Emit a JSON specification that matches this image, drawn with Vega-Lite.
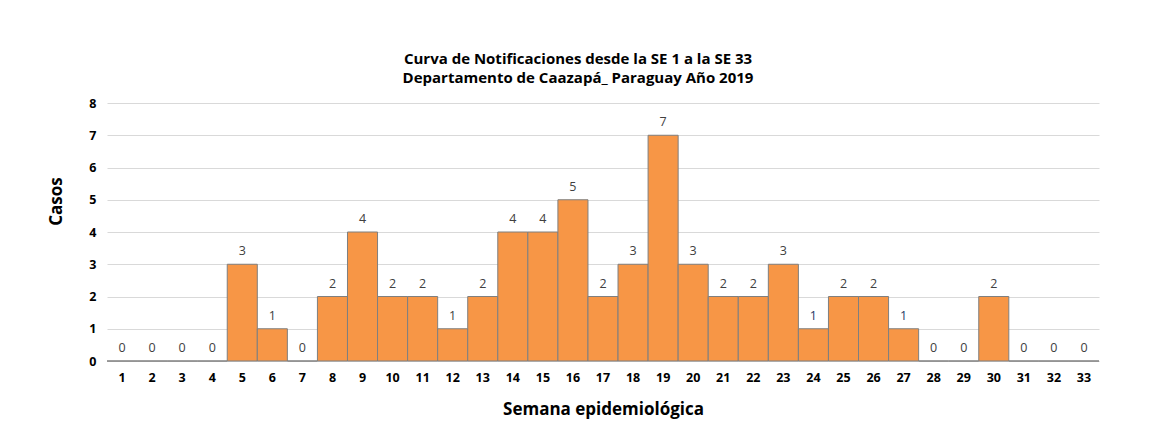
{
  "$schema": "https://vega.github.io/schema/vega-lite/v6.json",
  "width": 992,
  "height": 258,
  "autosize": "none",
  "padding": {"left": 107, "top": 103, "right": 58, "bottom": 64},
  "background": "white",
  "view": {"stroke": null},
  "title": {
    "text": ["Curva de Notificaciones desde la SE 1 a la SE 33", "Departamento de Caazapá_  Paraguay Año 2019"],
    "font": "Open Sans",
    "fontSize": 15,
    "fontWeight": "bold",
    "color": "#000000",
    "anchor": "middle",
    "dx": -25,
    "offset": 11,
    "lineHeight": 19
  },
  "data": {
    "values": [
      {"semana": 1, "casos": 0}, {"semana": 2, "casos": 0}, {"semana": 3, "casos": 0},
      {"semana": 4, "casos": 0}, {"semana": 5, "casos": 3}, {"semana": 6, "casos": 1},
      {"semana": 7, "casos": 0}, {"semana": 8, "casos": 2}, {"semana": 9, "casos": 4},
      {"semana": 10, "casos": 2}, {"semana": 11, "casos": 2}, {"semana": 12, "casos": 1},
      {"semana": 13, "casos": 2}, {"semana": 14, "casos": 4}, {"semana": 15, "casos": 4},
      {"semana": 16, "casos": 5}, {"semana": 17, "casos": 2}, {"semana": 18, "casos": 3},
      {"semana": 19, "casos": 7}, {"semana": 20, "casos": 3}, {"semana": 21, "casos": 2},
      {"semana": 22, "casos": 2}, {"semana": 23, "casos": 3}, {"semana": 24, "casos": 1},
      {"semana": 25, "casos": 2}, {"semana": 26, "casos": 2}, {"semana": 27, "casos": 1},
      {"semana": 28, "casos": 0}, {"semana": 29, "casos": 0}, {"semana": 30, "casos": 2},
      {"semana": 31, "casos": 0}, {"semana": 32, "casos": 0}, {"semana": 33, "casos": 0}
    ]
  },
  "encoding": {
    "x": {
      "field": "semana",
      "type": "ordinal",
      "scale": {"paddingInner": 0, "paddingOuter": 0},
      "axis": {
        "title": "Semana epidemiológica",
        "titleFont": "Open Sans",
        "titleFontSize": 17,
        "titleFontWeight": "bold",
        "titleColor": "#000000",
        "titlePadding": 18,
        "labelAngle": 0,
        "labelFont": "Open Sans",
        "labelFontSize": 12.5,
        "labelFontWeight": "bold",
        "labelColor": "#000000",
        "labelPadding": 10,
        "ticks": false,
        "domain": true,
        "domainColor": "#d9d9d9",
        "grid": false
      }
    },
    "y": {
      "field": "casos",
      "type": "quantitative",
      "scale": {"domain": [0, 8]},
      "axis": {
        "title": "Casos",
        "titleFont": "Open Sans",
        "titleFontSize": 17,
        "titleFontWeight": "bold",
        "titleColor": "#000000",
        "titlePadding": 23,
        "titleY": 98,
        "values": [0, 1, 2, 3, 4, 5, 6, 7, 8],
        "labelFont": "Open Sans",
        "labelFontSize": 12.5,
        "labelFontWeight": "bold",
        "labelColor": "#000000",
        "labelPadding": 11,
        "ticks": false,
        "domain": false,
        "grid": true,
        "gridColor": "#d9d9d9",
        "gridWidth": 1
      }
    }
  },
  "layer": [
    {
      "mark": {"type": "bar", "fill": "#F79646", "stroke": "#7f7f7f", "strokeWidth": 1}
    },
    {
      "mark": {"type": "text", "dy": -6, "font": "Open Sans", "fontSize": 12.5, "baseline": "bottom"},
      "encoding": {
        "text": {"field": "casos", "type": "quantitative"},
        "color": {
          "condition": {"test": "datum.semana == 24 || datum.semana == 27", "value": "#1f3864"},
          "value": "#404040"
        }
      }
    }
  ]
}
